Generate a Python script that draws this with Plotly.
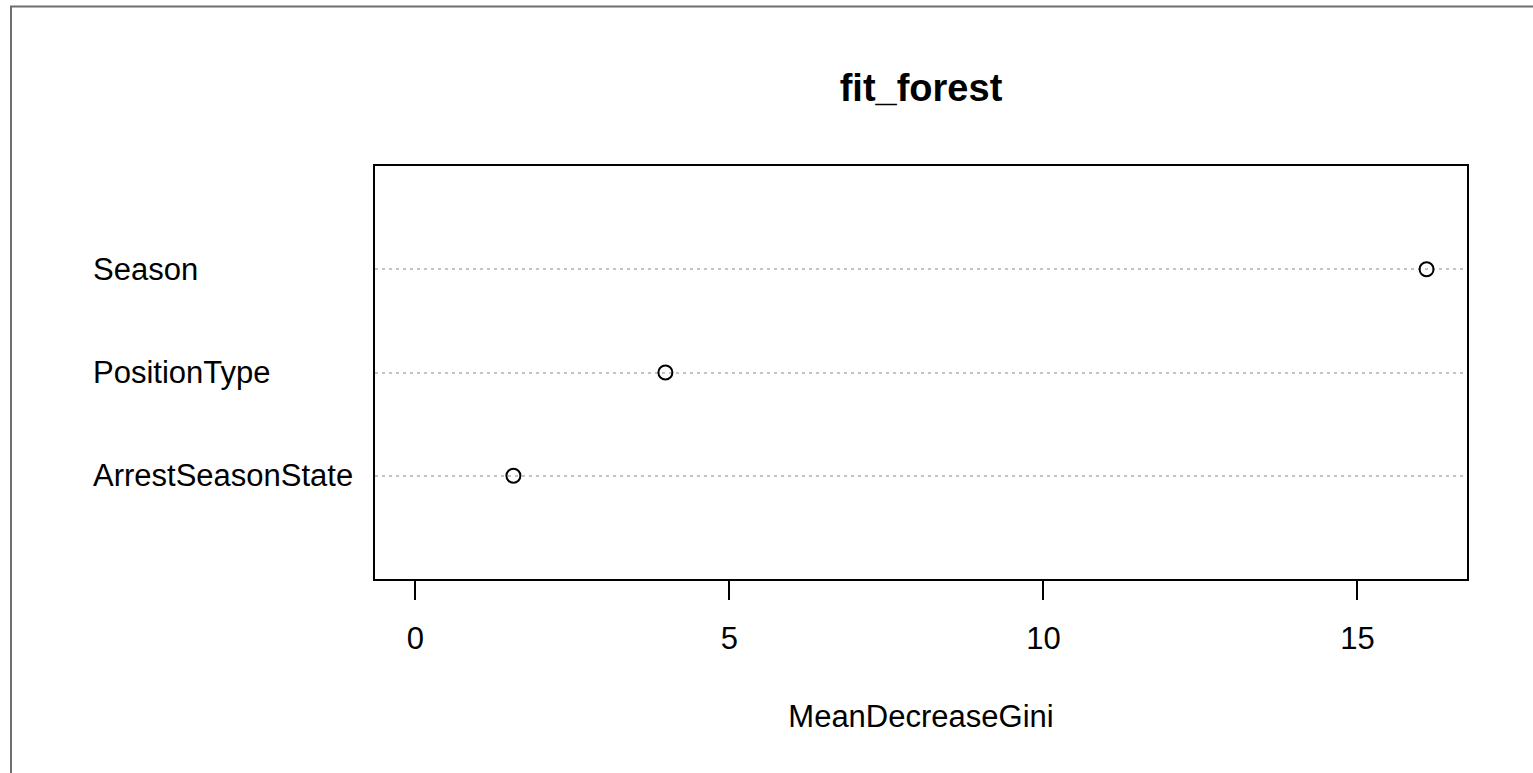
import plotly.graph_objects as go

# Variable importance from the random forest (bottom to top)
variables = ["ArrestSeasonState", "PositionType", "Season"]
mean_decrease_gini = [1.56, 3.98, 16.10]
x_ticks = [0, 5, 10, 15]

positions = list(range(1, len(variables) + 1))

FONT = "Liberation Sans, Arial, sans-serif"
W, H = 1533, 773
L, R, T, B = 375, 66, 166, 194

# R-style axis range: data span padded by 4% on each side, starting from 0
span = max(mean_decrease_gini)
x_range = [-0.04 * span, 1.04 * span]

fig = go.Figure()
fig.add_trace(go.Scatter(
    x=mean_decrease_gini,
    y=positions,
    mode="markers",
    marker=dict(symbol="circle-open", size=14, color="black",
                line=dict(width=2, color="black")),
    showlegend=False,
    hoverinfo="x+text",
    text=variables,
))

plot_w = W - L - R
plot_h = H - T - B

# Left-aligned variable labels
for name, pos in zip(variables, positions):
    fig.add_annotation(
        x=(91 - L) / plot_w, xref="paper", xanchor="left",
        y=pos, yref="y", yanchor="middle",
        text=name, showarrow=False,
        font=dict(family=FONT, size=31, color="black"),
    )

# Outer gray frame of the device
fig.add_shape(
    type="rect", xref="paper", yref="paper",
    x0=(11 - L) / plot_w, x1=(W + 20 - L) / plot_w,
    y0=(T + plot_h - (H + 20)) / plot_h, y1=(T + plot_h - 6.5) / plot_h,
    line=dict(color="#6e6e6e", width=2), fillcolor="rgba(0,0,0,0)",
    layer="below",
)

fig.update_layout(
    width=W, height=H,
    margin=dict(l=L, r=R, t=T, b=B),
    paper_bgcolor="white", plot_bgcolor="white",
    font=dict(family=FONT, size=31, color="black"),
    title=dict(text="<b>fit_forest</b>", x=(L + plot_w / 2) / W, xanchor="center",
               y=1 - 88 / H, yanchor="middle",
               font=dict(family=FONT, size=38, color="black")),
    xaxis=dict(
        range=x_range, tickvals=x_ticks, ticktext=[str(v) for v in x_ticks],
        ticks="outside", ticklen=19, tickwidth=2, tickcolor="black",
        showline=True, linecolor="black", linewidth=2, mirror=True,
        showgrid=False, zeroline=False,
        tickfont=dict(family=FONT, size=31, color="black"),
        ticklabelstandoff=12,
        title=dict(text="MeanDecreaseGini", standoff=50,
                   font=dict(family=FONT, size=31, color="black")),
    ),
    yaxis=dict(
        range=[0, len(variables) + 1], tickvals=positions,
        showticklabels=False, ticks="",
        showline=True, linecolor="black", linewidth=2, mirror=True,
        showgrid=True, gridcolor="#c4c4c4", gridwidth=1.5, griddash="3px,4px",
        zeroline=False,
    ),
)

fig.write_html("out.html")
